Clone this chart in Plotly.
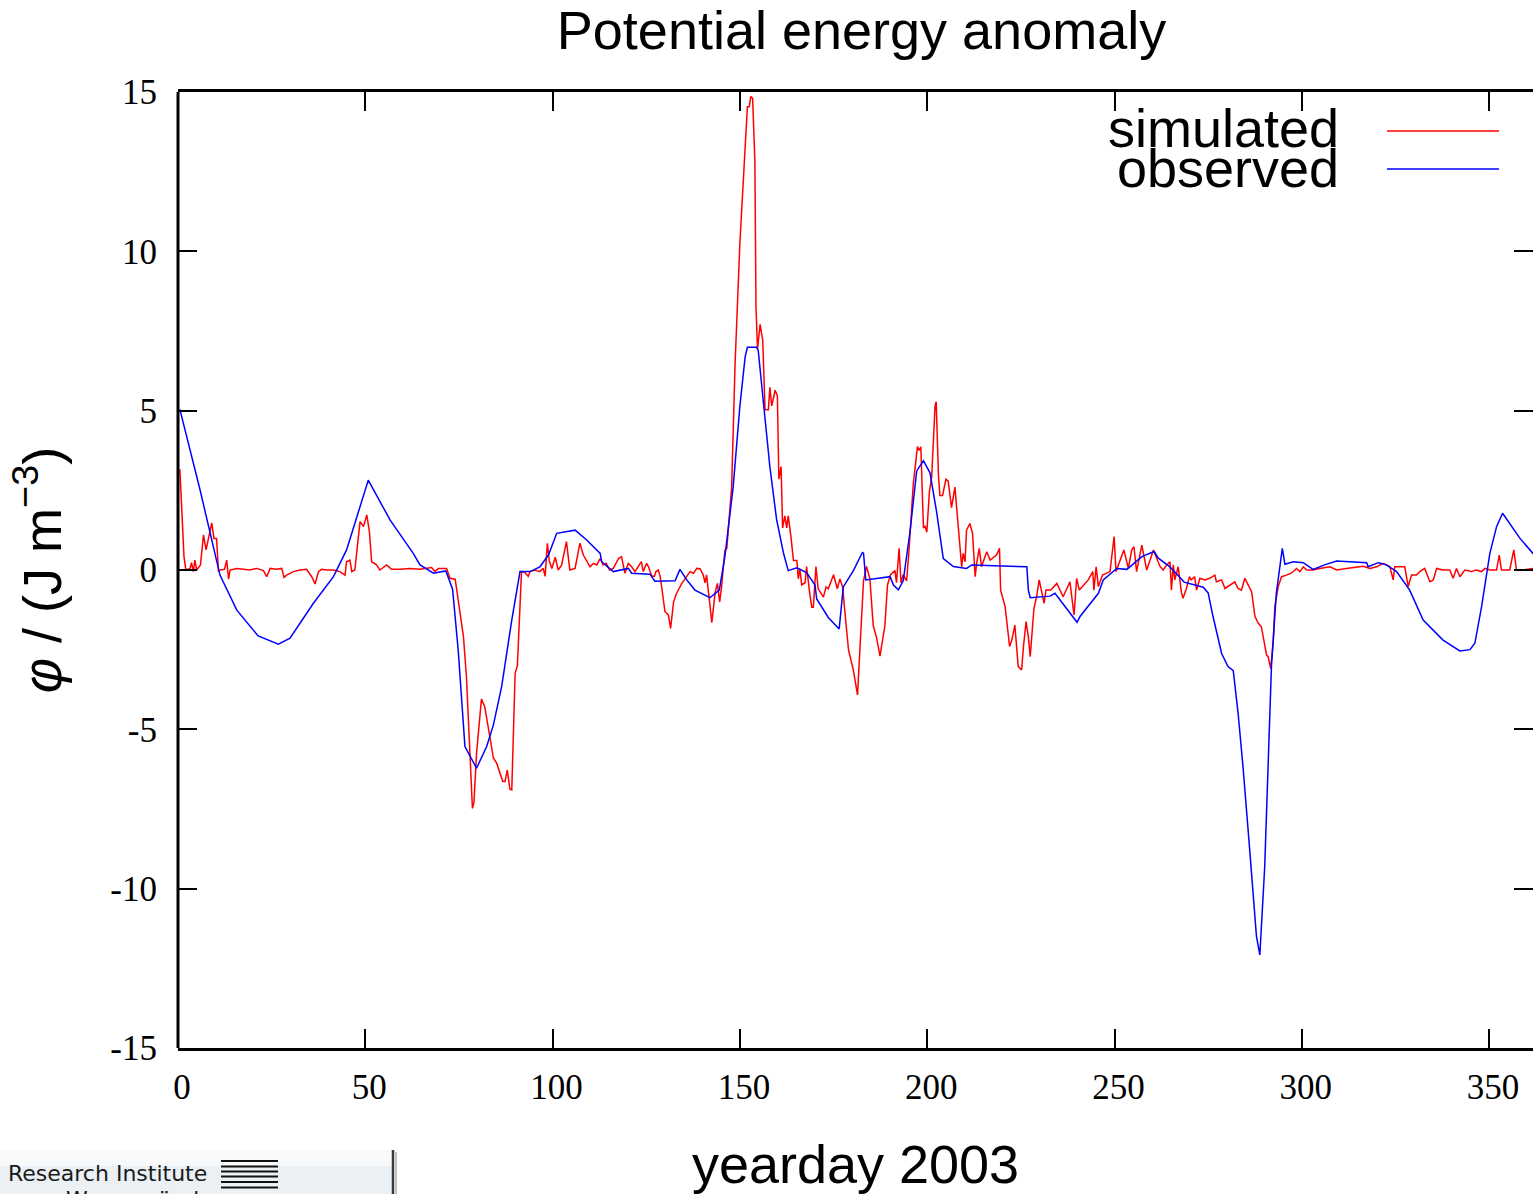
import plotly.graph_objects as go

# ---------------- data ----------------
SIM_DAY = [0.5, 1.6, 2.1, 3.2, 3.6, 4.1, 4.5, 5.0, 6.0, 6.8, 7.5, 8.4, 9.0, 9.6, 10.3, 10.8, 11.2, 12.4, 13.0, 13.5,
           13.9, 15.7, 17.4, 19.2, 21.0, 22.8, 23.7, 24.6, 26.3, 27.7, 28.3, 29.0, 30.8, 32.6, 34.3, 35.7, 36.6, 37.5,
           38.3, 39.7, 41.5, 43.2, 44.6, 45.0, 45.9, 46.4, 47.2, 48.6, 49.5, 50.4, 51.1, 51.7, 53.0, 53.9, 55.7, 57.0,
           59.3, 61.9, 64.6, 67.7, 68.6, 69.5, 71.7, 72.6, 74.0, 74.8, 75.3, 76.2, 77.0, 78.0, 78.6, 79.0, 79.7, 81.0,
           81.9, 82.8, 84.2, 85.1, 86.7, 87.3, 87.9, 88.6, 89.1, 90.0, 90.6, 91.7, 92.6, 93.5, 94.0, 95.3, 96.6, 97.5,
           98.0, 98.6, 99.1, 99.8, 100.7, 101.5, 102.4, 103.7, 104.6, 106.0, 107.3, 108.2, 109.1, 110.0, 110.9, 111.8,
           112.7, 113.5, 114.3, 115.2, 116.2, 117.1, 117.6, 118.4, 119.3, 120.2, 121.1, 122.0, 122.4, 123.7, 124.2,
           125.1, 125.6, 126.5, 127.2, 127.6, 128.2, 128.7, 129.1, 130.0, 130.9, 131.5, 132.3, 133.1, 134.5, 135.8,
           136.7, 137.6, 138.5, 139.35, 140.2, 140.7, 141.1, 141.8, 142.5, 143.4, 144.0, 144.6, 145.1, 146.0, 146.5,
           147.8, 148.7, 150.0, 151.4, 152.0, 152.5, 152.9, 153.4, 154.0, 154.3, 154.7, 155.4, 156.1, 156.7, 157.6,
           158.0, 158.5, 159.4, 160.0, 160.4, 161.0, 161.4, 162.0, 162.5, 162.9, 163.6, 164.3, 165.2, 165.6, 166.0,
           166.5, 167.4, 167.8, 168.7, 169.2, 169.6, 170.3, 170.9, 172.3, 173.0, 173.6, 175.0, 176.0, 176.7, 177.4,
           179.0, 180.3, 181.4, 182.1, 183.0, 183.8, 184.7, 185.6, 186.5, 187.4, 188.7, 189.4, 190.2, 191.4, 191.8,
           192.5, 193.0, 193.6, 194.5, 195.1, 195.9, 196.3, 197.4, 197.9, 198.3, 199.0, 199.4, 199.9, 200.6, 201.2,
           202.1, 202.4, 203.0, 203.4, 204.1, 205.0, 205.6, 206.5, 207.4, 208.3, 208.8, 209.2, 209.6, 210.1, 210.5,
           211.4, 212.1, 212.8, 213.2, 213.9, 214.5, 215.9, 216.8, 218.5, 219.3, 219.6, 220.8, 222.0, 222.6, 223.4,
           224.3, 225.2, 225.7, 226.4, 227.0, 227.5, 228.5, 229.2, 229.9, 231.2, 231.7, 233.0, 234.6, 236.3, 238.1,
           238.8, 239.2, 239.9, 240.6, 243.0, 244.2, 244.5, 245.1, 245.7, 246.8, 248.8, 249.9, 250.4, 252.5, 253.7,
           254.6, 255.2, 255.9, 257.3, 258.6, 260.4, 262.1, 263.0, 263.9, 264.8, 265.2, 265.7, 266.1, 267.0, 267.9,
           268.3, 269.2, 270.0, 270.5, 271.4, 271.9, 272.8, 274.1, 275.4, 276.8, 277.2, 278.6, 279.5, 280.8, 282.1,
           283.0, 283.9, 284.8, 285.7, 286.6, 287.5, 288.4, 289.2, 289.9, 290.6, 291.0, 291.7, 292.4, 292.8, 293.7,
           294.6, 295.9, 297.2, 298.6, 299.5, 300.4, 301.3, 303.0, 304.8, 307.5, 309.3, 311.9, 314.6, 316.4, 318.2,
           320.0, 321.7, 323.5, 324.4, 324.8, 326.2, 327.5, 328.4, 329.3, 330.6, 331.5, 332.8, 334.2, 335.1, 336.0,
           337.7, 339.5, 340.4, 341.3, 342.2, 343.5, 345.3, 346.6, 348.0, 348.9, 350.2, 352.0, 352.7, 353.3, 355.5,
           356.6, 357.3, 359.1, 361.7, 363.5, 365.0]
SIM_PHI = [3.16, 0.42, 0.0, 0.05, 0.23, -0.05, 0.31, 0.0, 0.16, 1.1, 0.63, 1.2, 1.48, 0.99, 0.99, -0.05, 0.0, 0.02, 0.31, -0.29,
           0.0, 0.05, 0.02, 0.0, 0.05, -0.02, -0.21, 0.05, 0.02, 0.05, -0.23, -0.16, -0.05, 0.0, 0.02, -0.21, -0.44, -0.05,
           0.02, 0.0, 0.0, -0.05, -0.16, 0.26, 0.31, -0.05, 0.0, 1.52, 1.36, 1.73, 1.2, 0.26, 0.16, 0.0, 0.16, 0.02,
           0.02, 0.05, 0.02, 0.08, -0.05, 0.05, 0.05, -0.26, -0.29, -0.94, -1.36, -2.09, -3.35, -5.75, -7.48, -7.3, -5.75, -4.05,
           -4.3, -4.92, -5.9, -6.07, -6.64, -6.64, -6.28, -6.88, -6.9, -3.24, -3.0, -0.05, -0.08, -0.2, -0.05, 0.0, -0.05, 0.05,
           -0.2, 0.84, 0.3, 0.05, 0.4, 0.0, 0.15, 0.89, 0.0, 0.05, 0.84, 0.47, 0.26, 0.1, 0.21, 0.16,
           0.36, 0.16, 0.21, 0.0, 0.05, 0.26, 0.36, 0.42, -0.1, 0.21, 0.1, -0.05, 0.02, 0.26, -0.05,
           0.21, 0.1, -0.2, -0.2, -0.05, 0.0, -0.2, -0.52, -1.31, -1.41, -1.83, -1.0, -0.73, -0.42, -0.21,
           -0.05, -0.1, 0.05, 0.04, -0.15, -0.4, -0.15, -0.89, -1.65, -0.7, -0.42, -1.0, -0.53, 0.62, 0.68,
           2.6, 6.43, 10.27, 13.46, 14.54, 14.54, 14.86, 14.8, 12.82, 8.22, 6.94, 7.71, 7.2, 5.03, 5.03,
           5.73, 5.15, 5.64, 5.47, 2.85, 3.24, 1.32, 1.7, 1.32, 1.7, 1.07, 0.3, 0.3, -0.28, 0.04,
           -0.47, -0.4, 0.11, -0.79, -1.17, -1.17, 0.11, -0.59, -0.85, -0.53, -0.59, -0.15, -0.59, -0.28, -0.53,
           -2.51, -3.15, -3.92, -2.51, -0.34, 0.11, -0.28, -1.75, -2.13, -2.7, -1.75, -0.47, -0.15, -0.02, -0.4,
           0.68, -0.4, -0.15, -0.34, 0.55, 1.83, 2.72, 3.87, 3.75, 3.87, 1.32, 1.38, 1.19, 2.47, 2.92,
           5.15, 5.28, 2.98, 2.34, 2.34, 2.85, 2.79, 1.96, 2.6, 1.32, 0.84, 0.1, 0.52, 0.26, 1.25,
           1.46, 1.15, -0.21, 0.21, 0.68, 0.1, 0.57, 0.31, 0.47, 0.68, -0.63, -1.15, -2.4, -2.2, -1.73,
           -3.03, -3.14, -2.4, -1.62, -2.09, -2.72, -1.2, -0.84, -0.31, -1.05, -0.63, -0.63, -0.42, -0.84, -0.37,
           -1.05, -1.41, -0.26, -0.63, -0.31, -0.05, -0.63, 0.1, -0.52, -0.16, -0.05, 1.05, -0.05, 0.63, 0.05,
           0.63, 0.73, -0.05, 0.78, 0.0, 0.63, 0.12, 0.0, 0.16, 0.26, -0.63, 0.16, -0.31, 0.1, -0.73,
           -0.89, -0.58, -0.21, -0.31, -0.21, -0.63, -0.26, -0.31, -0.26, -0.16, -0.37, -0.31, -0.58, -0.47, -0.37,
           -0.58, -0.63, -0.26, -0.47, -0.68, -1.46, -1.67, -1.78, -2.25, -2.67, -2.72, -3.09, -2.2, -1.15, -0.52,
           -0.21, -0.16, -0.1, 0.05, -0.05, 0.1, 0.0, 0.0, 0.05, 0.1, 0.0, 0.05, 0.1, 0.12, 0.05,
           0.1, 0.21, 0.1, -0.31, 0.1, 0.1, 0.1, -0.52, -0.16, -0.16, -0.05, 0.05, -0.37, -0.31, 0.05,
           0.0, 0.0, -0.26, 0.05, -0.21, 0.0, -0.05, 0.0, -0.05, 0.05, 0.0, 0.0, 0.47, 0.0, 0.0,
           0.63, 0.0, 0.0, 0.05, 0.0, 0.05]

OBS_DAY = [0.5, 5.9, 11.2, 15.7, 21.4, 26.8, 29.9, 36.1, 41.5, 45.0, 50.8, 56.6, 62.8, 64.6, 68.2, 71.5, 73.3, 74.8,
           76.6, 79.7, 82.4, 84.2, 86.4, 89.1, 91.3, 94.0, 96.6, 98.9, 101.1, 106.0, 109.1, 112.7, 113.1, 116.2,
           120.2, 121.1, 126.0, 127.3, 132.7, 134.0, 135.8, 138.0, 142.0, 144.5, 146.0, 148.2, 150.0, 151.4, 152.0,
           154.5, 154.9, 156.3, 158.0, 159.8, 161.6, 162.9, 165.2, 167.8, 170.05, 170.5, 173.6, 176.5, 177.6, 180.3,
           182.7, 183.0, 183.6, 190.1, 191.0, 192.3, 193.6, 195.4, 197.2, 199.0, 200.75, 202.5, 204.3, 207.0, 210.5,
           211.9, 217.7, 226.6, 227.0, 227.5, 232.8, 234.1, 240.0, 240.8, 245.7, 247.0, 250.6, 253.3, 254.1, 257.3,
           260.6, 261.7, 264.8, 268.6, 273.7, 275.0, 276.3, 278.6, 280.3, 281.7, 283.0, 284.3, 286.1, 287.9, 288.8,
           290.1, 291.0, 291.9, 293.2, 294.1, 294.8, 295.5, 297.7, 300.4, 303.0, 306.1, 309.3, 317.3, 317.7, 320.4,
           322.6, 325.3, 328.8, 332.4, 337.7, 342.2, 344.9, 346.2, 348.0, 350.2, 352.0, 353.6, 355.5, 358.2, 361.7,
           364.0]
OBS_PHI = [5.04, 2.51, -0.16, -1.26, -2.07, -2.33, -2.14, -1.05, -0.21, 0.63, 2.82, 1.57, 0.52, 0.16, -0.1, -0.03, -0.6, -2.51,
           -5.54, -6.22, -5.54, -4.86, -3.66, -1.57, -0.05, -0.05, 0.1, 0.47, 1.15, 1.25, 0.94, 0.52, 0.26, -0.05,
           0.05, -0.1, -0.13, -0.35, -0.34, 0.02, -0.31, -0.63, -0.87, -0.63, 0.43, 2.6, 5.15, 6.69, 6.99,
           6.99, 6.88, 5.28, 3.24, 1.58, 0.55, -0.02, 0.07, -0.08, -0.47, -0.91, -1.49, -1.85, -0.53, -0.02,
           0.55, 0.53, -0.31, -0.21, -0.47, -0.62, -0.34, 1.19, 3.11, 3.43, 3.05, 1.83, 0.36, 0.11, 0.05,
           0.16, 0.13, 0.1, -0.63, -0.87, -0.82, -0.73, -1.64, -1.46, -0.73, -0.31, 0.05, 0.02, 0.1, 0.42,
           0.58, 0.37, 0.1, -0.38, -0.54, -0.72, -1.46, -2.62, -3.03, -3.16, -4.5, -6.17, -8.79, -11.5, -12.08,
           -9.31, -6.17, -3.03, -0.73, 0.1, 0.68, 0.18, 0.26, 0.23, 0.02, 0.16, 0.28, 0.23, 0.1, 0.23,
           0.16, -0.05, -0.63, -1.57, -2.2, -2.54, -2.5, -2.3, -1.15, 0.52, 1.36, 1.78, 1.46, 1.0, 0.52,
           0.25]

SERIES_NAMES = ["simulated", "observed"]
SERIES_COLORS = ["#ff0000", "#0000ff"]
X_TICKS = [0, 50, 100, 150, 200, 250, 300, 350]
Y_TICKS = [-15, -10, -5, 0, 5, 10, 15]
Y_TICK_LABELS = ["-15", "-10", "-5", "0", "5", "10", "15"]
X_RANGE = [0, 361.72]
Y_RANGE = [-15, 15]

SANS = "Liberation Sans, Arial, sans-serif"
SERIF = "Liberation Serif, Times New Roman, serif"

fig = go.Figure()
fig.add_trace(go.Scatter(x=SIM_DAY, y=SIM_PHI, mode="lines", name=SERIES_NAMES[0],
                         line=dict(color=SERIES_COLORS[0], width=1.5), showlegend=False))
fig.add_trace(go.Scatter(x=OBS_DAY, y=OBS_PHI, mode="lines", name=SERIES_NAMES[1],
                         line=dict(color=SERIES_COLORS[1], width=1.5), showlegend=False))

W, H = 1533, 1194
L, R, T, B = 178, 0, 92, 146
PW, PH = W - L - R, H - T - B


def px_x(p):
    return (p - L) / PW


def px_y(p):
    return (H - B - p) / PH


shapes = []
annotations = []

# left border (right border lies outside the visible page)
shapes.append(dict(type="line", xref="paper", yref="paper", x0=0, x1=0, y0=0, y1=1,
                   line=dict(color="black", width=3)))

# key (gnuplot style: text right-aligned, sample to its right)
key_rows = [(128, 131), (168, 169)]
for i, (ty, ly) in enumerate(key_rows):
    annotations.append(dict(text=SERIES_NAMES[i], xref="paper", yref="paper",
                            x=px_x(1341), y=px_y(ty), xanchor="right", yanchor="middle",
                            showarrow=False, font=dict(family=SANS, size=54, color="black")))
    shapes.append(dict(type="line", xref="paper", yref="paper",
                       x0=px_x(1387), x1=px_x(1499), y0=px_y(ly), y1=px_y(ly),
                       line=dict(color=SERIES_COLORS[i], width=1.5)))

# institute logo strip at bottom-left
shapes.append(dict(type="rect", xref="paper", yref="paper", x0=px_x(0), x1=px_x(393),
                   y0=px_y(1150), y1=px_y(1194), fillcolor="#eaf0f3", line=dict(width=0), layer="below"))
shapes.append(dict(type="rect", xref="paper", yref="paper", x0=px_x(0), x1=px_x(393),
                   y0=px_y(1150), y1=px_y(1166), fillcolor="#f7f9fa", line=dict(width=0), layer="below"))
shapes.append(dict(type="line", xref="paper", yref="paper", x0=px_x(393), x1=px_x(393),
                   y0=px_y(1150), y1=px_y(1194), line=dict(color="#3a3a3a", width=2.5)))
shapes.append(dict(type="line", xref="paper", yref="paper", x0=px_x(396), x1=px_x(396),
                   y0=px_y(1152), y1=px_y(1194), line=dict(color="#c4c4c4", width=2)))
for yy in [1161, 1166.5, 1171.5, 1176.5, 1182, 1187.5]:
    shapes.append(dict(type="line", xref="paper", yref="paper", x0=px_x(221), x1=px_x(278),
                       y0=px_y(yy), y1=px_y(yy), line=dict(color="#111111", width=2)))
annotations.append(dict(text="Research Institute", xref="paper", yref="paper",
                        x=px_x(6), y=px_y(1173), xanchor="left", yanchor="middle", showarrow=False,
                        font=dict(family="DejaVu Sans", size=22, color="#1a1a1a")))
annotations.append(dict(text="Warnemünde", xref="paper", yref="paper",
                        x=px_x(64), y=px_y(1185), xanchor="left", yanchor="top", showarrow=False,
                        font=dict(family="DejaVu Sans", size=22, color="#1a1a1a")))

fig.update_layout(
    width=W, height=H,
    margin=dict(l=L, r=R, t=T, b=B, pad=0),
    paper_bgcolor="white", plot_bgcolor="white",
    showlegend=False,
    title=dict(text="Potential energy anomaly", xref="paper", x=px_x(861.5), xanchor="center",
               yref="container", y=1 - 30 / H, yanchor="middle",
               font=dict(family=SANS, size=54, color="black")),
    shapes=shapes,
    annotations=annotations,
)

fig.update_xaxes(
    range=X_RANGE, tickmode="array", tickvals=X_TICKS,
    ticks="inside", ticklen=19, tickwidth=2, tickcolor="black",
    showline=True, linewidth=3, linecolor="black", mirror="ticks",
    showgrid=False, zeroline=False,
    tickfont=dict(family=SERIF, size=35, color="black"), ticklabelstandoff=6, ticklabelshift=4,
    title=dict(text="yearday 2003", font=dict(family=SANS, size=54, color="black"), standoff=41),
)
fig.update_yaxes(
    range=Y_RANGE, tickmode="array", tickvals=Y_TICKS, ticktext=Y_TICK_LABELS,
    ticks="inside", ticklen=19, tickwidth=2, tickcolor="black",
    showline=False, mirror="ticks",
    showgrid=False, zeroline=False,
    tickfont=dict(family=SERIF, size=35, color="black"), ticklabelstandoff=20,
    title=dict(text="<i>φ</i> / (J m<sup>−3</sup>)", font=dict(family=SANS, size=54, color="black"), standoff=31),
)

fig.write_html("out.html")
